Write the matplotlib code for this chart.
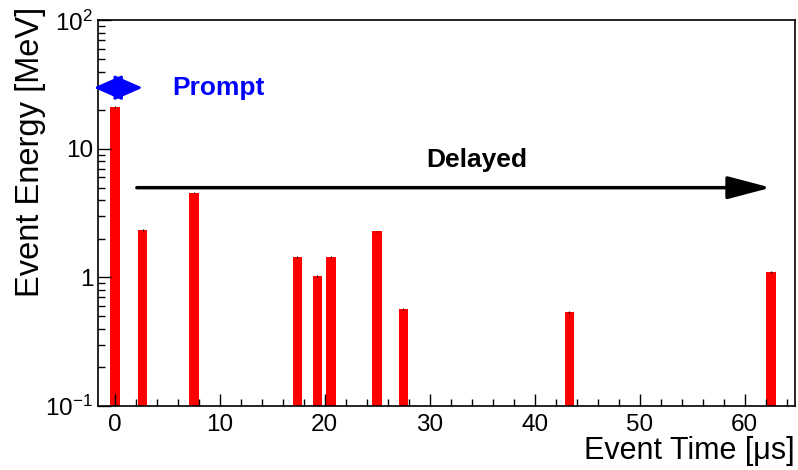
import numpy as np
import matplotlib
matplotlib.use('Agg')
import matplotlib.pyplot as plt
from matplotlib.ticker import FixedLocator, MultipleLocator, NullFormatter

plt.rcParams['font.family'] = ['Liberation Sans', 'DejaVu Sans']
plt.rcParams['mathtext.fontset'] = 'custom'
plt.rcParams['mathtext.rm'] = 'Liberation Sans'
plt.rcParams['mathtext.it'] = 'Liberation Sans:italic'
plt.rcParams['mathtext.bf'] = 'Liberation Sans:bold'

# event times [us] and energies [MeV]
times = [0.0, 2.65, 7.55, 17.4, 19.3, 20.6, 25.0, 27.5, 43.3, 62.5]
energies = [21.2, 2.34, 4.55, 1.45, 1.02, 1.45, 2.29, 0.57, 0.54, 1.10]
errors = [0.5, 0.03, 0.04, 0.02, 0.02, 0.02, 0.03, 0.01, 0.01, 0.02]

yticks = [0.1, 1, 10, 100]
ylabels = [r'$10^{-1}$', '1', '10', r'$10^{2}$']
xticks = [0, 10, 20, 30, 40, 50, 60]

prompt_x = (-2.0, 2.65)
prompt_y = 30
delayed_x = (2.1, 62.5)
delayed_y = 5

fig = plt.figure(figsize=(7.98, 4.70), dpi=100)
ax = fig.add_axes([0.1228, 0.1362, 0.8734, 0.8202])

ax.bar(times, energies, width=0.9, color='red', align='center')
ax.errorbar(times, energies, yerr=errors, fmt='none', ecolor='black', elinewidth=0.8)

ax.set_yscale('log')
ax.set_xlim(-1.6, 64.8)
ax.set_ylim(0.1, 100)

ax.yaxis.set_major_locator(FixedLocator(yticks))
ax.set_yticklabels(ylabels)
ax.yaxis.set_minor_locator(FixedLocator([m * 10.0**e for e in (-1, 0, 1) for m in range(2, 10)]))
ax.yaxis.set_minor_formatter(NullFormatter())
ax.xaxis.set_major_locator(FixedLocator(xticks))
ax.xaxis.set_minor_locator(MultipleLocator(2))

ax.tick_params(which='both', direction='in', top=False, right=False, labelsize=17.5, width=1.0)
ax.tick_params(which='major', length=9)
ax.tick_params(which='minor', length=5)
ax.tick_params(axis='x', pad=6)
for s in ax.spines.values():
    s.set_linewidth(1.2)

ax.set_xlabel('Event Time [μs]', fontsize=22, ha='right', va='center')
ax.xaxis.set_label_coords(1.0, -0.117)
ax.set_ylabel('Event Energy [MeV]', fontsize=23.5, ha='right', va='center')
ax.yaxis.set_label_coords(-0.097, 1.035)

# prompt arrow (double headed)
ax.annotate('', xy=(prompt_x[1], prompt_y), xytext=(prompt_x[0], prompt_y),
            arrowprops=dict(arrowstyle='<|-|>,head_length=1.25,head_width=0.55',
                            mutation_scale=14, color='blue', lw=2, shrinkA=0, shrinkB=0))
ax.text(5.5, prompt_y, 'Prompt', color='blue', fontsize=19, fontweight='bold',
        ha='left', va='center')

# delayed arrow
ax.annotate('', xy=(delayed_x[1], delayed_y), xytext=(delayed_x[0], delayed_y),
            arrowprops=dict(arrowstyle='-|>,head_length=1.9,head_width=0.5',
                            mutation_scale=14, color='black', lw=2.5, shrinkA=0, shrinkB=0))
ax.text(34.5, 8.2, 'Delayed', color='black', fontsize=19, fontweight='bold',
        ha='center', va='center')

fig.savefig('out.png', dpi=100)
